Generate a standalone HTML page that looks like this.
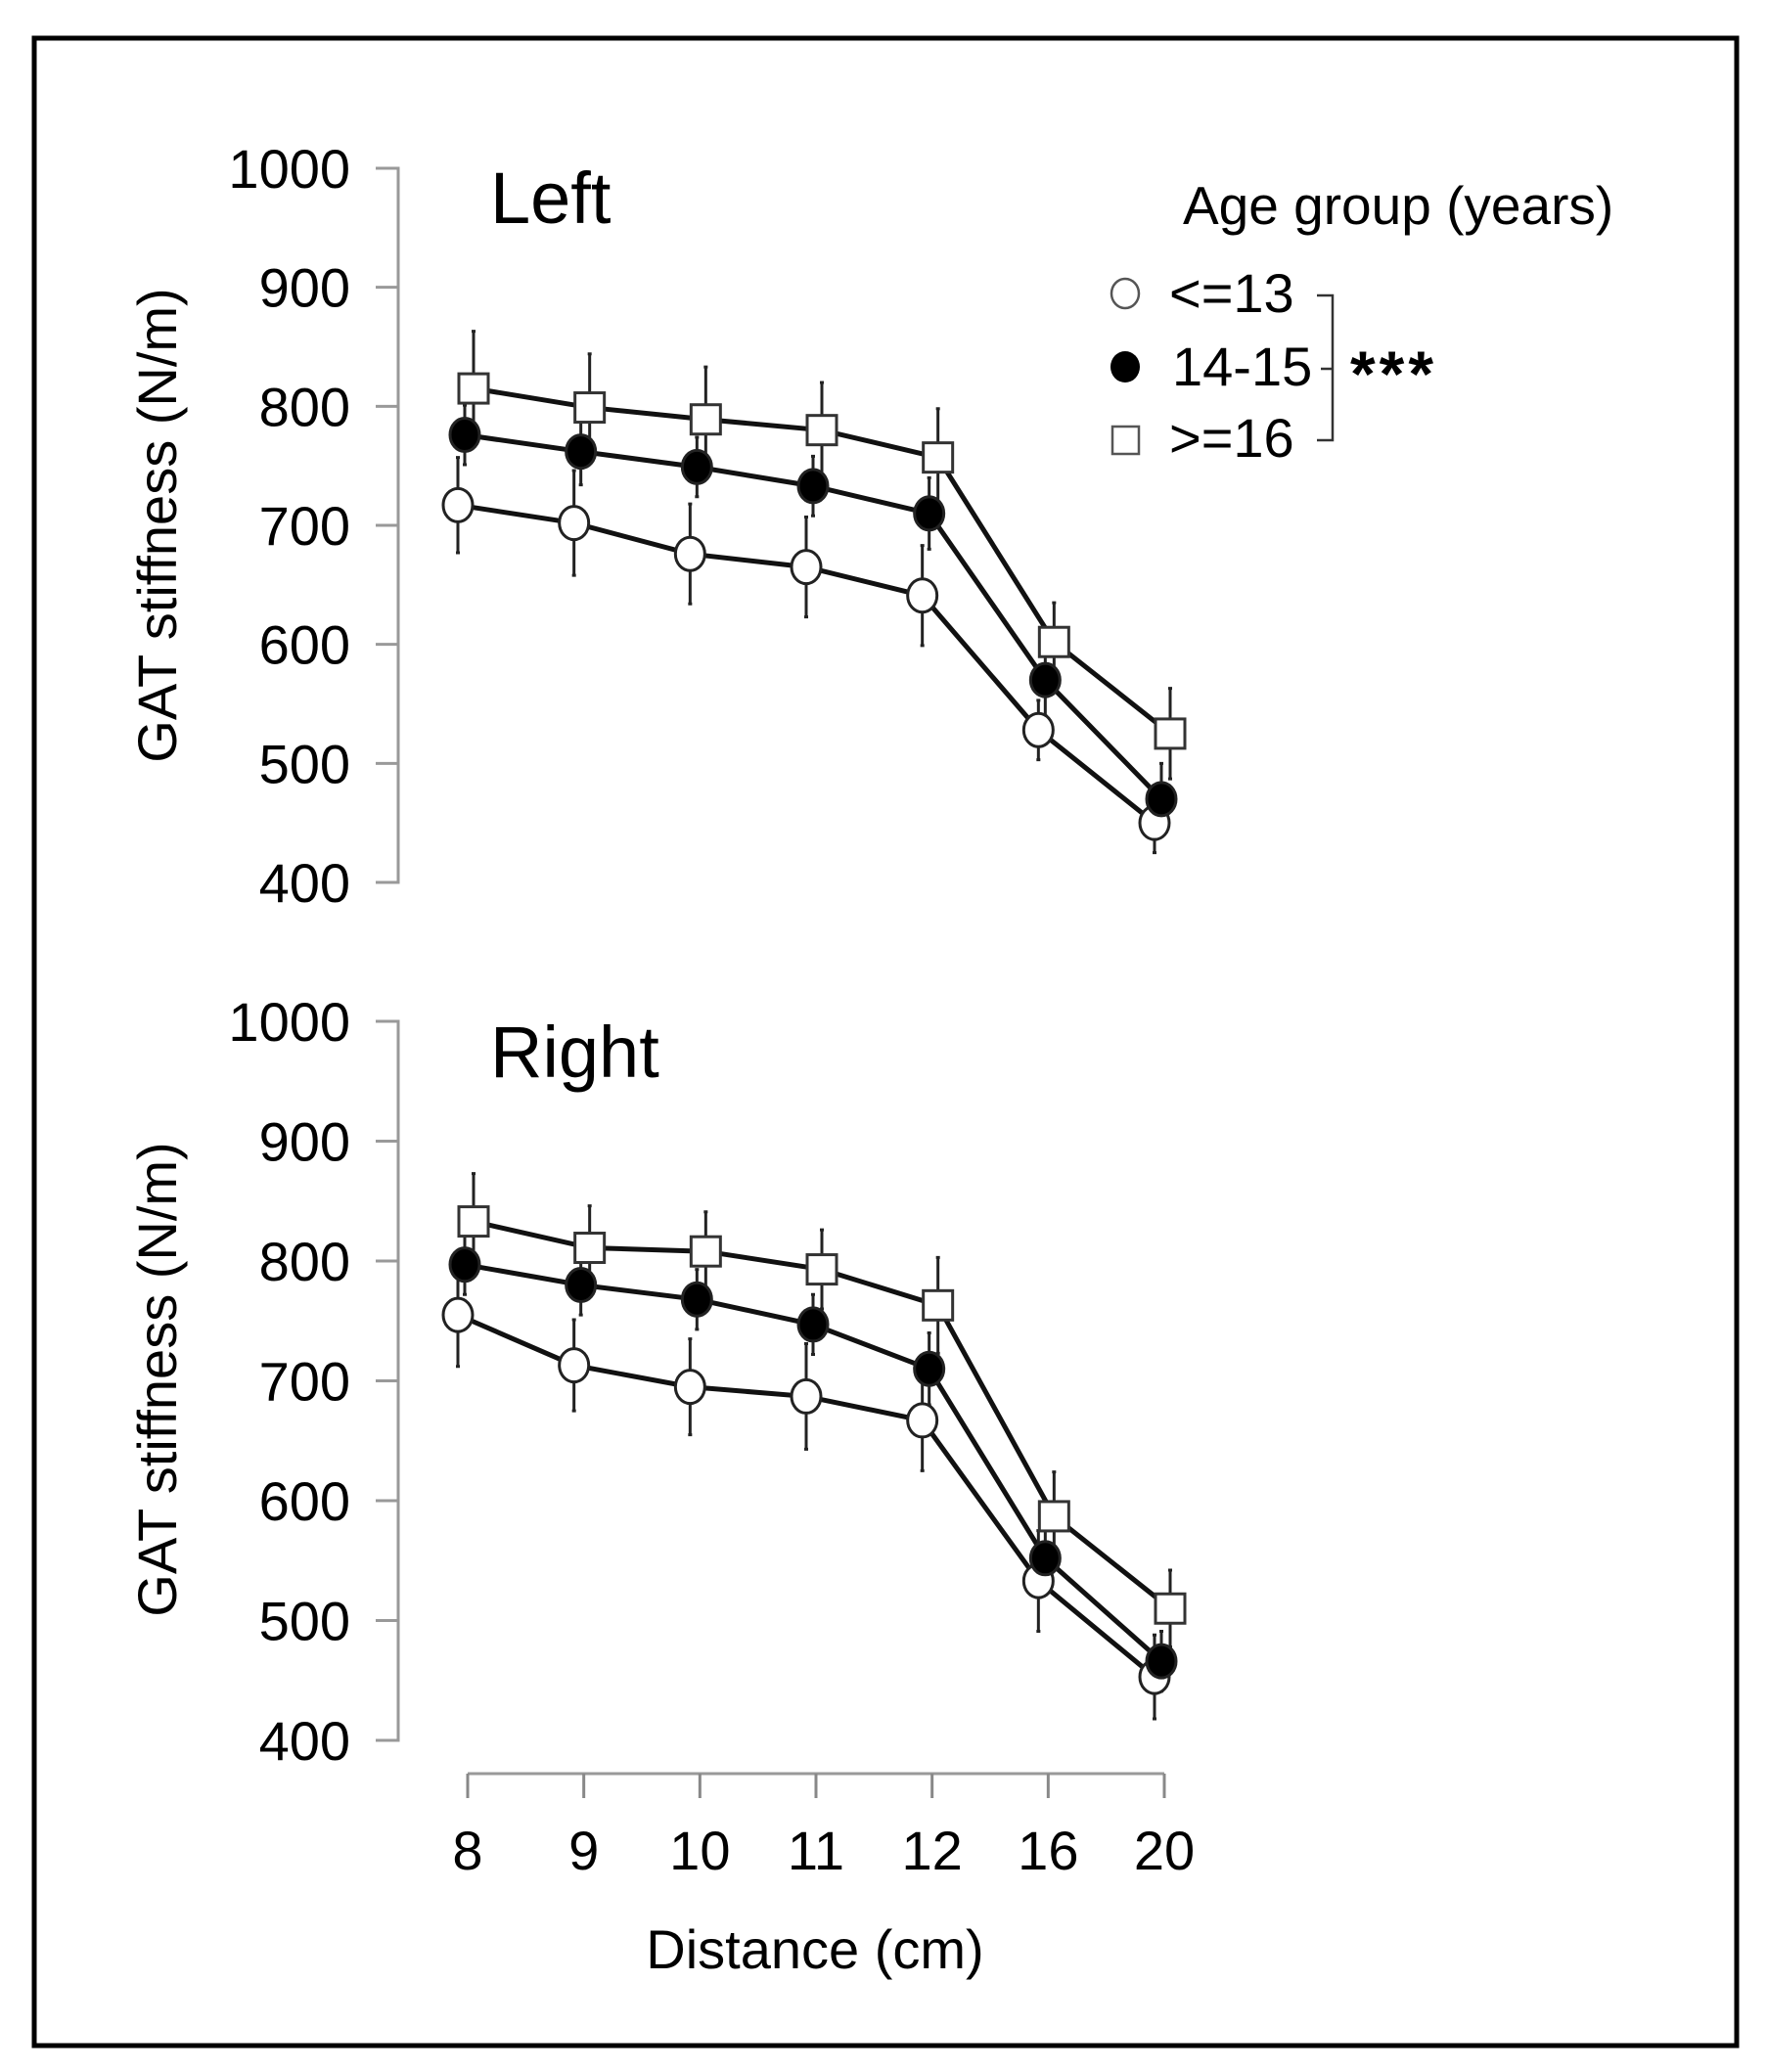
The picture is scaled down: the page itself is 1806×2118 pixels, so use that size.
<!DOCTYPE html>
<html><head><meta charset="utf-8"><style>
html,body{margin:0;padding:0;background:#fff;}
svg{display:block;font-family:"Liberation Sans",Arial,sans-serif;}
</style></head><body>
<svg id="chart" width="1806" height="2118" viewBox="0 0 1806 2118" xmlns="http://www.w3.org/2000/svg">
<rect x="35" y="39" width="1740" height="2052" fill="#fff" stroke="#000" stroke-width="5"/>
<g id="plot"></g>
<text x="501" y="228" font-size="74">Left</text>
<text x="501" y="1101" font-size="74">Right</text>
<text x="833" y="2012" font-size="56" text-anchor="middle">Distance (cm)</text>
<text transform="translate(180,537) rotate(-90)" font-size="56" text-anchor="middle">GAT stiffness (N/m)</text>
<text transform="translate(180,1410) rotate(-90)" font-size="56" text-anchor="middle">GAT stiffness (N/m)</text>
<g>
<text x="1209" y="229" font-size="55">Age group (years)</text>
<ellipse cx="1150" cy="300" rx="14" ry="15" fill="#fff" stroke="#555" stroke-width="2.5"/>
<text x="1195" y="319" font-size="56">&lt;=13</text>
<ellipse cx="1150" cy="375" rx="15" ry="16" fill="#000"/>
<text x="1198" y="394" font-size="56">14-15</text>
<rect x="1137" y="436" width="27" height="28" fill="#fff" stroke="#555" stroke-width="2.5"/>
<text x="1195" y="467" font-size="56">&gt;=16</text>
<path d="M1346 302 H1362 V450 H1346 M1350 377 H1362" fill="none" stroke="#333" stroke-width="2.5"/>
<text x="1380" y="405" font-size="66" font-weight="bold" letter-spacing="4">***</text>
</g>
</svg>
<script>
const categories = ["8","9","10","11","12","16","20"];
const yTicks = [400,500,600,700,800,900,1000];
const leftLe13 = [717,702,676,665,641,528,450];
const leftLe13Err = [40,44,42,42,42,25,25];
const left1415 = [776,762,749,733,710,570,470];
const left1415Err = [25,28,25,25,30,30,30];
const leftGe16 = [815,799,789,780,757,602,525];
const leftGe16Err = [48,45,44,40,41,33,38];
const rightLe13 = [755,713,695,687,667,533,453];
const rightLe13Err = [43,38,40,44,42,42,35];
const right1415 = [797,780,768,747,710,552,466];
const right1415Err = [25,25,25,25,30,30,25];
const rightGe16 = [833,811,808,793,763,587,510];
const rightGe16Err = [40,35,33,33,40,37,32];

const NS = "http://www.w3.org/2000/svg";
const g = document.getElementById("plot");
function mk(tag, attrs, parent){const e=document.createElementNS(NS,tag);for(const k in attrs)e.setAttribute(k,attrs[k]);(parent||g).appendChild(e);return e;}
function xPos(i){return 478 + i*(1190-478)/(categories.length-1);}
const panels = [
 {name:"left", y0:902, y1:172, series:[[leftLe13,leftLe13Err,"open"],[left1415,left1415Err,"filled"],[leftGe16,leftGe16Err,"square"]]},
 {name:"right", y0:1779, y1:1044, series:[[rightLe13,rightLe13Err,"open"],[right1415,right1415Err,"filled"],[rightGe16,rightGe16Err,"square"]]}
];
const dodge = {open:-10, filled:-3, square:6};
panels.forEach(p=>{
  const yS = v => p.y0 + (v-400)*(p.y1-p.y0)/600;
  const ax = mk("path",{d:`M384 ${p.y1} H407 V${p.y0} H384`,fill:"none",stroke:"#999","stroke-width":3});
  
  
  yTicks.forEach(t=>{
    const y=yS(t);
    const tk=mk("line",{x1:384,x2:407,y1:y,y2:y,stroke:"#999","stroke-width":3});
    
    
    const tl=mk("text",{x:358,y:y+20,"font-size":56,"text-anchor":"end"});
    tl.textContent=t;
    
    
  });
  p.series.forEach(([vals,errs,kind])=>{
    const d=vals.map((v,i)=>(i?"L":"M")+(xPos(i)+dodge[kind])+" "+yS(v)).join(" ");
    const ln=mk("path",{d:d,fill:"none",stroke:"#111","stroke-width":5});
    
    
  });
  p.series.forEach(([vals,errs,kind])=>{
    vals.forEach((v,i)=>{
      const x=xPos(i)+dodge[kind];
      const eb=mk("path",{d:`M${x} ${yS(v-errs[i])} V${yS(v+errs[i])} M${x-2} ${yS(v-errs[i])} h4 M${x-2} ${yS(v+errs[i])} h4`,stroke:"#222","stroke-width":3,fill:"none"});
      
      
    });
  });
  p.series.forEach(([vals,errs,kind])=>{
    vals.forEach((v,i)=>{
      const x=xPos(i)+dodge[kind], y=yS(v);
      let m;
      if(kind==="square") m=mk("rect",{x:x-15,y:y-15,width:30,height:30,fill:"#fff",stroke:"#333","stroke-width":3});
      else m=mk("ellipse",{cx:x,cy:y,rx:15,ry:17,fill:kind==="filled"?"#000":"#fff",stroke:"#222","stroke-width":3});
      
      
    });
  });
});
const xa=mk("path",{d:"M478 1813 H1190",fill:"none",stroke:"#999","stroke-width":3});


categories.forEach((c,i)=>{
  const tk=mk("line",{x1:xPos(i),x2:xPos(i),y1:1813,y2:1838,stroke:"#888","stroke-width":3});
  
  
  const tl=mk("text",{x:xPos(i),y:1911,"font-size":56,"text-anchor":"middle"});
  tl.textContent=c;
  
  
});
</script>
</body></html>
